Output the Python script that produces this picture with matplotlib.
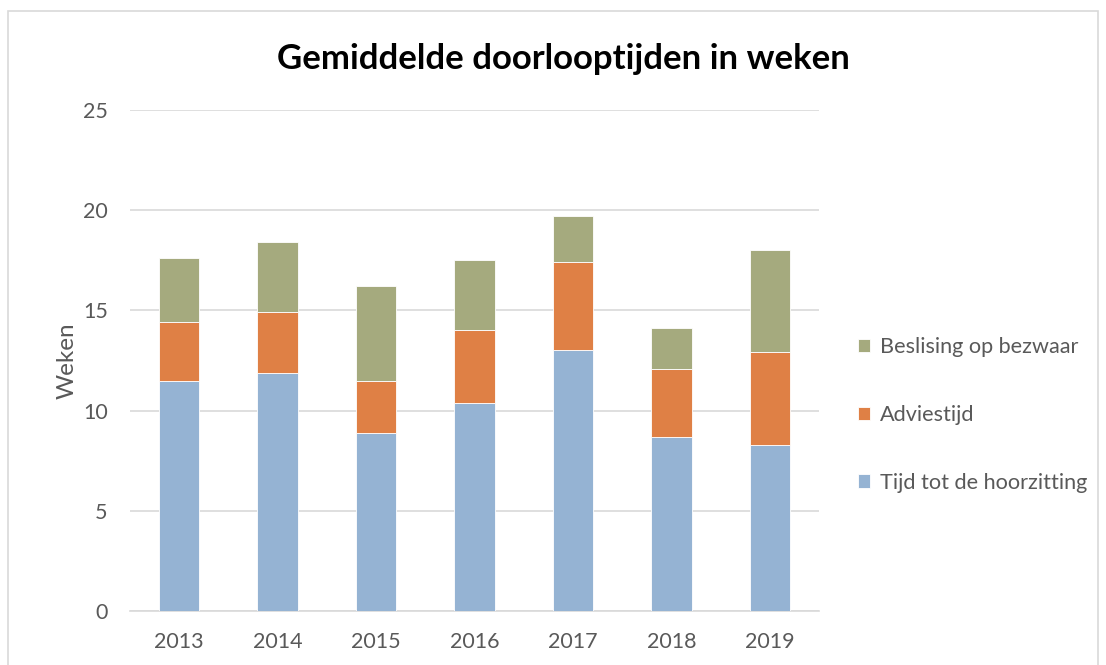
import matplotlib.pyplot as plt
import numpy as np
from matplotlib.patches import Rectangle

years = ['2013', '2014', '2015', '2016', '2017', '2018', '2019']
hoorzitting = [11.5, 11.9, 8.9, 10.4, 13.0, 8.7, 8.3]
adviestijd = [2.9, 3.0, 2.6, 3.6, 4.4, 3.4, 4.6]
beslising = [3.2, 3.5, 4.7, 3.5, 2.3, 2.0, 5.1]

plt.rcParams['font.family'] = ['Lato', 'DejaVu Sans']

fig = plt.figure(figsize=(11.06, 6.65), dpi=100)
ax = fig.add_axes([0.1175, 0.0812, 0.623, 0.7534])

x = np.arange(len(years))
w = 0.41
b1 = ax.bar(x, hoorzitting, w, color='#95B3D3', edgecolor='white', linewidth=0.6,
            label='Tijd tot de hoorzitting', zorder=3)
bottom2 = np.array(hoorzitting)
b2 = ax.bar(x, adviestijd, w, bottom=bottom2, color='#DF8045', edgecolor='white',
            linewidth=0.6, label='Adviestijd', zorder=3)
bottom3 = bottom2 + np.array(adviestijd)
b3 = ax.bar(x, beslising, w, bottom=bottom3, color='#A5AA7E', edgecolor='white',
            linewidth=0.6, label='Beslising op bezwaar', zorder=3)

ax.set_xlim(-0.5, 6.5)
ax.set_ylim(0, 25)
ax.set_yticks([0, 5, 10, 15, 20, 25])
ax.set_xticks(x)
ax.set_xticklabels(years)
ax.grid(axis='y', color='#D9D9D9', linewidth=1.2, zorder=0)
for s in ['top', 'right', 'left']:
    ax.spines[s].set_visible(False)
ax.spines['bottom'].set_color('#D9D9D9')
ax.spines['bottom'].set_linewidth(1.2)
ax.tick_params(axis='both', length=0, labelsize=15.5, colors='#595959')
ax.tick_params(axis='x', pad=15)
ax.tick_params(axis='y', pad=16)
ax.set_ylabel('Weken', fontsize=17.5, color='#595959', labelpad=4)

fig.text(0.509, 0.912, 'Gemiddelde doorlooptijden in weken', ha='center', va='center',
         fontsize=25, fontweight='bold', color='black')

fig.legend(handles=[b3, b2, b1], loc='center left', bbox_to_anchor=(0.758, 0.376),
           frameon=False, fontsize=15.6, labelspacing=2.2, handlelength=0.58,
           handleheight=0.58, handletextpad=0.45, labelcolor='#595959')

fig.patches.append(Rectangle((8 / 1106, -0.01), 1090 / 1106, 1 - 11 / 665 + 0.01,
                             transform=fig.transFigure, fill=False,
                             edgecolor='#D9D9D9', linewidth=1.2))

fig.savefig('out.png', dpi=100)
